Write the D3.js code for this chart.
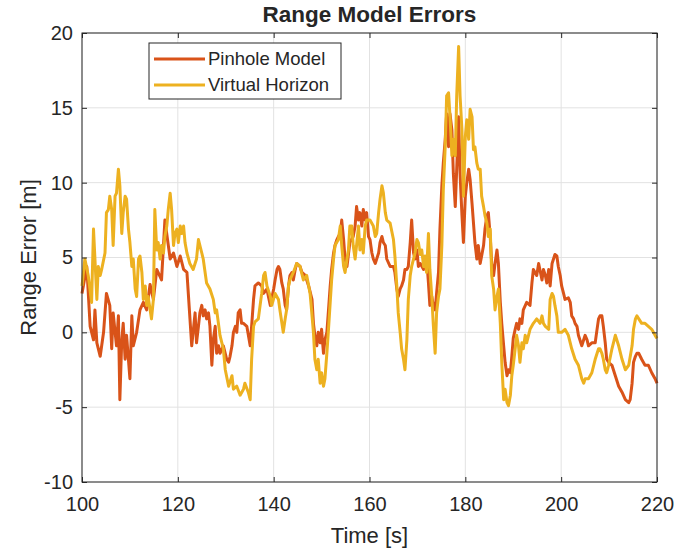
<!DOCTYPE html>
<html>
<head>
<meta charset="utf-8">
<script src="https://cdn.jsdelivr.net/npm/d3@7"></script>
<style>
	body { margin: 0; background: #fff; }
	svg text { font-family: "Liberation Sans", Arial, Helvetica, sans-serif; fill: #262626; }
</style>
</head>
<body>
<div id="chart"></div>
<script>
// [time s, range error m]
var pinholeErrors = [
	[100,2.6],[101,4.4],[101.7,0.4],[102.4,-0.5],[102.7,1.5],[103.1,-0.7],[103.8,-1.6],[104.5,0],
	[105.1,2.6],[105.8,1.8],[106.2,-1.1],[106.5,1.3],[107.2,-0.9],[107.6,1.1],[107.9,-4.5],[108.3,-0.5],
	[108.6,0.6],[109,-1.8],[109.3,-0.2],[110,-3.1],[110.4,1.1],[110.7,-0.9],[111.4,0],[112.1,1.5],
	[112.8,2],[113.5,1.5],[114.2,3.2],[114.9,2.2],[115.6,4.2],[116.6,3.5],[117.3,7.5],[118.4,4.9],
	[119.1,5.3],[119.8,4.4],[120.5,5.1],[121.2,4.2],[121.9,4],[122.9,-0.9],[123.6,1.3],[123.9,-0.7],
	[124.3,0.4],[124.6,1.3],[125,1.8],[125.3,1.1],[125.7,1.5],[126,0.9],[126.4,1.3],[126.7,0.4],
	[127.1,-2.2],[127.4,-0.5],[127.8,0.4],[128.1,-1.4],[128.5,-0.9],[128.8,-1.4],[129.5,-0.9],[130.2,-1.8],
	[130.6,-2],[130.9,-1.6],[131.3,-0.9],[131.6,0],[132,0.4],[132.3,0],[132.6,1.3],[133,1.5],
	[133.3,0.6],[133.7,0.6],[134.4,0.4],[135.1,-0.9],[135.4,0.4],[135.8,2.2],[136.1,3.1],[136.8,3.3],
	[137.5,3.1],[137.9,2.6],[138.6,2.9],[138.9,2.4],[139.3,1.8],[140,2.9],[140.3,3.5],[140.7,4.2],
	[141,4.4],[141.3,4.2],[141.7,3.3],[142,2.9],[142.4,1.8],[142.7,1.5],[143.1,3.1],[143.4,3.8],
	[143.8,4],[144.1,3.5],[144.5,4.2],[144.8,4.6],[145.5,4.4],[145.9,4],[146.6,3.8],[147.3,3.1],
	[148,2.2],[148.3,0.6],[148.6,-0.2],[149,-0.9],[149.3,0],[149.7,-0.7],[150,0.2],[150.4,-1.4],
	[150.7,-0.5],[151.1,0],[151.4,1.3],[151.8,3.1],[152.1,4.2],[152.5,5.3],[152.8,5.8],[153.2,6.2],
	[153.5,6.4],[153.9,6.6],[154.2,7.5],[154.6,6.2],[154.9,4.9],[155.3,4.4],[155.9,6],[156.6,6.4],
	[157,7.1],[157.3,8.4],[157.7,7.5],[158,8],[158.4,7.1],[158.7,8.2],[159.1,7.5],[159.4,8],
	[159.8,6.4],[160.1,6.2],[160.5,5.3],[160.8,4.9],[161.2,4.6],[161.5,4.9],[161.9,5.3],[162.2,6],
	[162.6,6.4],[162.9,6],[163.3,5.8],[163.6,4.9],[164.3,4.4],[165,4.4],[165.3,4],[165.7,2.9],
	[166,2.4],[166.4,2.9],[166.7,3.1],[167.1,3.5],[167.4,4.2],[167.8,4.2],[168.1,4.4],[168.5,6],
	[168.8,7.5],[169.2,5.3],[169.5,4.9],[169.9,5.5],[170.2,4.4],[170.6,4.6],[171.3,4.2],[172,4.6],
	[172.3,3.3],[172.6,1.8],[173,2.4],[173.3,1.8],[173.7,1.5],[174,2.6],[174.4,4],[174.7,6.9],
	[175.1,9.8],[175.4,11.3],[175.8,12.9],[176.1,14.6],[176.5,12.4],[176.8,14.6],[177.2,13.5],[177.5,10.6],
	[177.9,8.4],[178.2,10.9],[178.6,14.4],[178.9,10.6],[179.3,7.8],[179.6,6],[180,9.1],[180.3,10],
	[180.7,10.9],[181,10.2],[181.4,8.6],[181.7,7.3],[182,6],[182.4,4.9],[182.7,5.8],[183.1,4.6],
	[183.4,5.1],[183.8,5.8],[184.1,6.9],[184.5,7.8],[184.8,8],[185.2,6.4],[185.5,4.6],[185.9,3.8],
	[186.2,4.6],[186.6,5.5],[186.9,4.6],[187.3,2],[187.6,0.6],[188,-0.9],[188.3,-2],[188.7,-2.9],
	[189,-2.5],[189.4,-2.7],[189.7,-1.6],[190,-0.4],[190.4,0.2],[190.7,0.6],[191.1,0.2],[191.4,0.9],
	[191.8,0.6],[192.1,1.5],[192.8,2],[193.5,1.8],[193.9,3.3],[194.2,4.2],[194.9,3.8],[195.3,4.6],
	[196,3.5],[196.3,4.2],[196.7,3.8],[197,3.3],[197.4,4.2],[197.7,3.1],[198.1,4.6],[198.4,4.9],
	[198.7,5.2],[199.1,5.1],[199.4,4.4],[199.8,3.8],[200.1,3.1],[200.5,2.6],[200.8,2.2],[201.5,2.3],
	[201.9,2],[202.2,1.1],[202.6,0.9],[202.9,0.6],[203.3,0.4],[203.6,-0.2],[204.3,-0.9],[205,-0.2],
	[205.4,-0.5],[205.7,-0.9],[206.4,-0.7],[207.1,-0.7],[207.4,0],[207.8,0.9],[208.1,1.1],[208.5,1.1],
	[208.8,0.4],[209.2,-0.7],[209.5,-1.8],[209.9,-2],[210.6,-2.2],[211.3,-2.9],[212,-3.6],[212.7,-4],
	[213.4,-4.5],[214.1,-4.7],[214.4,-4.5],[214.8,-3.4],[215.1,-2],[215.5,-1.6],[215.8,-1.4],[216.2,-1.4],
	[216.8,-1.8],[217.5,-2.2],[218.2,-2.2],[218.9,-2.7],[219.6,-3.1],[220,-3.4]
];

var horizonErrors = [
	[100,3.1],[100.6,4.9],[101.3,3.8],[102,2],[102.4,6.9],[102.7,4.9],[103.1,2.2],[103.4,4.4],
	[103.8,3.8],[104.1,4.2],[104.8,5.3],[105.1,8],[105.5,8.2],[105.8,9.1],[106.2,8.2],[106.5,5.8],
	[106.9,9.1],[107.2,9.3],[107.6,10.9],[107.9,9.8],[108.3,6.6],[108.6,8],[109,9.1],[109.3,8.9],
	[109.7,6.9],[110,6],[110.4,4.4],[110.7,4.9],[111.1,2.9],[111.4,2.4],[111.8,4.9],[112.1,5.1],
	[112.5,4],[112.8,2.2],[113.2,3.1],[113.5,1.8],[113.8,2.4],[114.5,0.9],[114.9,2.2],[115.2,8.2],
	[115.6,5.5],[115.9,6],[116.3,4.9],[116.6,5.8],[117,5.3],[117.3,6.4],[117.7,7.1],[118,8.2],
	[118.4,9.3],[118.7,8.2],[119.1,5.8],[119.4,6.6],[119.8,6.9],[120.1,6],[120.5,7.1],[120.8,6.6],
	[121.2,7.1],[121.5,6],[121.9,5.3],[122.5,4.6],[123.2,4.2],[123.9,4.9],[124.3,6.2],[125,5.3],
	[125.3,4.9],[126,3.3],[126.7,2.9],[127.4,2.2],[127.8,1.3],[128.1,1.5],[128.8,-0.2],[129.5,-1.1],
	[129.9,-2.5],[130.6,-3.6],[131.3,-2.9],[131.6,-3.8],[132.3,-3.6],[133,-4.2],[133.7,-3.8],[134,-3.4],
	[134.7,-4],[135.1,-4.5],[135.4,-1.8],[135.8,0.4],[136.1,0.7],[136.8,0.9],[137.5,2.6],[137.9,3.8],
	[138.2,4],[138.6,3.1],[139.3,2.4],[139.6,1.8],[140.3,2.6],[141,2.2],[141.3,1.5],[142,0],
	[142.4,0.9],[142.7,1.5],[143.1,3.1],[143.4,3.5],[144.1,4],[144.8,4.6],[145.5,4.4],[146.2,3.5],
	[146.9,3.8],[147.6,2.6],[147.9,1.5],[148.3,0],[148.6,-1.8],[149,-2.5],[149.3,-1.8],[149.7,-3.4],
	[150,-2.7],[150.4,-3.6],[150.7,-3.1],[151.1,-1.4],[151.4,0],[151.8,2],[152.1,3.5],[152.5,4.9],
	[152.8,5.8],[153.5,6.2],[153.9,7.1],[154.2,5.8],[154.6,4.4],[154.9,4],[155.3,4.9],[155.6,5.5],
	[155.9,7.1],[156.3,7.1],[156.6,5.8],[157,4.9],[157.3,5.8],[157.7,7.1],[158,5.5],[158.4,6.2],
	[158.7,5.3],[159.1,7.1],[159.4,7.5],[160.1,7.5],[160.8,7.1],[161.2,6.4],[161.5,6.6],[161.9,8],
	[162.2,8.9],[162.6,9.8],[162.9,9.3],[163.3,8],[163.6,7.5],[164.3,7.3],[165,6.2],[165.3,5.1],
	[165.7,3.1],[166,1.3],[166.4,0],[166.7,-1.1],[167.1,-1.8],[167.4,-2.5],[167.8,-0.5],[168.1,2.2],
	[168.5,3.8],[168.8,4.4],[169.2,4.9],[169.5,5.3],[169.9,6.2],[170.2,6],[170.6,5.2],[170.9,5.5],
	[171.3,4.4],[171.6,5.1],[171.9,4],[172.3,6.6],[172.6,4.2],[173,2.4],[173.3,0.6],[173.7,-1.4],
	[174,1.3],[174.4,2.4],[174.7,2.9],[175.1,5.8],[175.4,9.5],[175.8,12.4],[176.1,15.8],[176.5,16],
	[176.8,14.4],[177.2,11.8],[177.5,12.9],[177.9,11.8],[178.2,15.8],[178.6,19.1],[178.9,15.8],[179.3,13.5],
	[179.6,9.1],[180,13.1],[180.3,14.2],[180.7,12.9],[181,14.9],[181.4,14.4],[181.7,12.2],[182,12.4],
	[182.4,11.3],[182.7,10.9],[183.1,10.9],[183.4,9.1],[183.8,8.4],[184.1,7.8],[184.5,7.3],[184.8,6.4],
	[185.2,6.9],[185.5,3.8],[185.9,2.9],[186.2,1.5],[186.6,2.4],[186.9,2.9],[187.3,0.6],[187.6,-2],
	[188,-4.5],[188.3,-3.8],[188.7,-4.7],[189,-4.9],[189.4,-4.2],[189.7,-2.9],[190,-2.2],[190.4,-1.1],
	[190.7,-0.2],[191.1,-0.9],[191.4,-2],[191.8,-0.7],[192.1,-1.1],[192.5,-0.2],[192.8,-0.7],[193.5,0.2],
	[194.2,0.6],[194.9,0.9],[195.6,0.6],[196,1.1],[196.3,0.6],[196.7,0.4],[197.4,0.2],[197.7,2.2],
	[198.1,2.6],[198.4,2.4],[198.7,1.8],[199.1,1.1],[199.4,0],[200.1,0],[200.8,0.2],[201.5,-0.2],
	[202.2,-1.1],[202.9,-1.8],[203.6,-2.2],[204.3,-3.1],[204.7,-3.4],[205,-3.1],[205.7,-3.1],[206.4,-2.7],
	[207.1,-1.8],[207.8,-1.1],[208.1,-1.1],[208.5,-1.4],[208.8,-1.8],[209.2,-2.5],[209.5,-2.7],[209.9,-2.2],
	[210.6,-1.1],[211.3,-0.2],[211.6,-0.5],[212,-0.9],[212.7,-1.8],[213.4,-2.5],[214.1,-2.2],[214.8,-0.9],
	[215.1,0.2],[215.5,0.9],[215.8,1.1],[216.2,0.9],[216.8,0.6],[217.5,0.6],[218.2,0.4],[218.9,0.2],
	[219.6,-0.2],[220,-0.4]
];

var seriesNames = ['Pinhole Model', 'Virtual Horizon'];
var seriesColors = ['#d95319', '#edb120'];
var xTicks = [100, 120, 140, 160, 180, 200, 220];
var yTicks = [-10, -5, 0, 5, 10, 15, 20];

var W = 693, H = 550;
var margin = {top: 33, right: 36, bottom: 68, left: 82};
var width = W - margin.left - margin.right;
var height = H - margin.top - margin.bottom;

var svg = d3.select('#chart')
	.append('svg')
	.attr('width', W)
	.attr('height', H);

var g = svg.append('g')
	.attr('transform', 'translate(' + margin.left + ',' + margin.top + ')');

var x = d3.scaleLinear().domain([100, 220]).range([0, width]);
var y = d3.scaleLinear().domain([-10, 20]).range([height, 0]);

// grid
g.append('g').selectAll('line')
	.data(xTicks)
	.join('line')
	.attr('x1', d => x(d)).attr('x2', d => x(d))
	.attr('y1', 0).attr('y2', height)
	.attr('stroke', '#e2e2e2');

g.append('g').selectAll('line')
	.data(yTicks)
	.join('line')
	.attr('x1', 0).attr('x2', width)
	.attr('y1', d => y(d)).attr('y2', d => y(d))
	.attr('stroke', '#e2e2e2');

// lines, second series on top like matlab
var line = d3.line().x(d => x(d[0])).y(d => y(d[1]));
[pinholeErrors, horizonErrors].forEach(function(s, i){
	g.append('path')
		.datum(s)
		.attr('fill', 'none')
		.attr('stroke', seriesColors[i])
		.attr('stroke-width', 3)
		.attr('stroke-linejoin', 'round')
		.attr('d', line);
});

// axes with inward ticks, plain hyphen for negatives
var tickLen = 5;
var fmt = d => String(d);
var xAxis = g.append('g')
	.attr('transform', 'translate(0,' + height + ')')
	.call(d3.axisBottom(x).tickValues(xTicks).tickSize(-tickLen).tickPadding(15).tickFormat(fmt));
var yAxis = g.append('g')
	.call(d3.axisLeft(y).tickValues(yTicks).tickSize(-tickLen).tickPadding(9).tickFormat(fmt));
var xTop = g.append('g')
	.call(d3.axisTop(x).tickValues(xTicks).tickSize(-tickLen).tickFormat(''));
var yRight = g.append('g')
	.attr('transform', 'translate(' + width + ',0)')
	.call(d3.axisRight(y).tickValues(yTicks).tickSize(-tickLen).tickFormat(''));

[xAxis, yAxis, xTop, yRight].forEach(function(a){
	a.select('.domain').remove();
	a.selectAll('line').attr('stroke', '#262626');
	a.selectAll('text').attr('font-size', 20).attr('fill', '#262626');
});

g.append('rect')
	.attr('width', width).attr('height', height)
	.attr('fill', 'none')
	.attr('stroke', '#262626')
	.attr('stroke-width', 1);

// labels
svg.append('text')
	.attr('x', margin.left + width / 2)
	.attr('y', 543)
	.attr('text-anchor', 'middle')
	.attr('font-size', 22)
	.text('Time [s]');

svg.append('text')
	.attr('transform', 'translate(36,' + (margin.top + height / 2) + ') rotate(-90)')
	.attr('text-anchor', 'middle')
	.attr('font-size', 22)
	.text('Range Error [m]');

svg.append('text')
	.attr('x', margin.left + width / 2)
	.attr('y', 22)
	.attr('text-anchor', 'middle')
	.attr('font-size', 22.5)
	.attr('font-weight', 'bold')
	.attr('fill', '#000')
	.text('Range Model Errors');

// legend
var legend = svg.append('g').attr('transform', 'translate(149,43)');
legend.append('rect')
	.attr('width', 192).attr('height', 56)
	.attr('fill', '#fff')
	.attr('stroke', '#262626');
seriesNames.forEach(function(name, i){
	var ly = 16 + i * 26;
	legend.append('line')
		.attr('x1', 5).attr('x2', 56)
		.attr('y1', ly).attr('y2', ly)
		.attr('stroke', seriesColors[i])
		.attr('stroke-width', 3);
	legend.append('text')
		.attr('x', 59).attr('y', ly)
		.attr('dy', '0.35em')
		.attr('font-size', 18.5)
		.text(name);
});
</script>
</body>
</html>
